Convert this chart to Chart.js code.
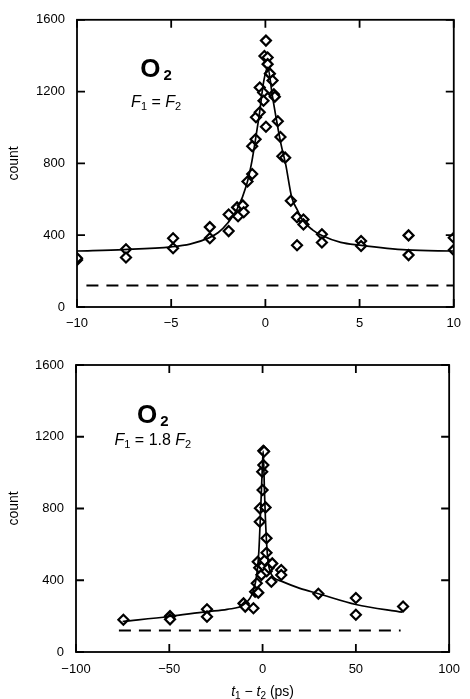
<!DOCTYPE html>
<html>
<head>
<meta charset="utf-8">
<script src="https://cdn.jsdelivr.net/npm/chart.js@4.4.1/dist/chart.umd.min.js"></script>
<style>
  body { margin: 0; background: #fff; }
  .box { position: relative; width: 470px; }
  canvas { display: block; }
</style>
</head>
<body>
<div class="box" style="height:340px"><canvas id="topChart" width="470" height="340"></canvas></div>
<div class="box" style="height:359px"><canvas id="botChart" width="470" height="359"></canvas></div>
<script>
// ---- top panel: F1 = F2, delay -10..10 ps
var topX = [-10, -10, -7.4, -7.4, -4.9, -4.9, -2.95, -2.95, -1.95, -1.95, -1.5, -1.45, -1.2, -1.15, -0.95, -0.7, -0.7, -0.52, -0.5, -0.3, -0.3, -0.12, -0.1, -0.05, 0.03, 0.12, 0.12, 0.03, 0.24, 0.38, 0.45, 0.5, 0.66, 0.8, 0.9, 1.05, 1.35, 1.68, 2.02, 2.02, 1.68, 3.0, 3.0, 5.08, 5.08, 7.6, 7.6, 10, 10];
var topY = [262, 272, 322, 276, 383, 327, 445, 383, 515, 423, 555, 506, 566, 528, 699, 741, 896, 934, 1057, 1085, 1223, 1195, 1149, 1398, 1484, 1390, 1353, 1004, 1300, 1262, 1185, 1172, 1035, 947, 840, 832, 592, 500, 487, 460, 344, 405, 359, 368, 340, 399, 289, 386, 318];
var topFitX = [-10, -7.5, -5, -4, -3, -2.5, -2, -1.5, -1, -0.75, -0.5, -0.3, -0.1, 0.12, 0.38, 0.56, 0.82, 1.08, 1.4, 1.7, 2, 2.5, 3, 4, 5, 7.5, 10];
var topFitY = [312, 320, 335, 350, 385, 415, 468, 545, 680, 793, 950, 1090, 1250, 1335, 1170, 1059, 912, 793, 610, 540, 480, 430, 398, 360, 345, 318, 312];
var topBgX = [-9.5, 10];
var topBgY = [120, 120];
var topXTicks = [-10, -5, 0, 5, 10];

// ---- bottom panel: F1 = 1.8 F2, delay -100..100 ps
var botX = [-74.6, -49.6, -49.6, -29.8, -29.8, -10.2, -9.3, -4.9, -4.0, -2.3, -3.1, -2.6, -1.8, -0.6, 0.2, 1.1, 2.2, 3.3, 4.7, 5.2, -1.4, 1.6, -1.5, 2.1, 2.1, 0.0, -0.2, 0.4, 0.4, 0.8, 10.0, 10.0, 29.9, 50, 50, 75.3];
var botY = [180, 200, 182, 238, 197, 271, 253, 244, 336, 331, 383, 503, 470, 430, 480, 510, 450, 470, 392, 494, 801, 806, 726, 634, 553, 903, 1005, 1042, 1122, 1118, 457, 429, 325, 301, 208, 254];
var botFitX = [-75, -50, -30, -19, -10, -5, -3, -2, -1, 0, 0.35, 1, 1.5, 2.2, 3, 4, 6, 10, 20, 30, 50, 75];
var botFitY = [170, 198, 225, 238, 265, 340, 440, 560, 800, 1060, 1120, 900, 750, 600, 500, 450, 415, 395, 355, 325, 265, 222];
var botBgX = [-77, 74];
var botBgY = [120, 120];
var botXTicks = [-100, -50, 0, 50, 100];

var yTicks = [0, 400, 800, 1200, 1600];

function pts(xs, ys) {
  var out = [];
  for (var i = 0; i < xs.length; i++) out.push({x: xs[i], y: ys[i]});
  return out;
}

function minus(v) {
  return v < 0 ? '\u2212' + Math.abs(v) : '' + v;
}

// frame round the plot with inward ticks on all four sides
var framePlugin = {
  id: 'frame',
  afterDraw: function(chart) {
    var a = chart.chartArea, ctx = chart.ctx;
    var xs = chart.scales.x, ys = chart.scales.y;
    var len = 8;
    ctx.save();
    ctx.strokeStyle = '#000';
    ctx.lineWidth = 1.8;
    ctx.strokeRect(a.left, a.top, a.right - a.left, a.bottom - a.top);
    ctx.beginPath();
    chart.options.plugins.frame.xTicks.forEach(function(v) {
      var px = xs.getPixelForValue(v);
      ctx.moveTo(px, a.bottom); ctx.lineTo(px, a.bottom - len);
      ctx.moveTo(px, a.top); ctx.lineTo(px, a.top + len);
    });
    yTicks.forEach(function(v) {
      var py = ys.getPixelForValue(v);
      ctx.moveTo(a.left, py); ctx.lineTo(a.left + len, py);
      ctx.moveTo(a.right, py); ctx.lineTo(a.right - len, py);
    });
    ctx.stroke();
    ctx.restore();
  }
};

// labels with sub-scripts, drawn as runs of text
var notesPlugin = {
  id: 'notes',
  afterDraw: function(chart) {
    var ctx = chart.ctx;
    var xs = chart.scales.x, ys = chart.scales.y;
    ctx.save();
    ctx.fillStyle = '#000';
    ctx.textBaseline = 'alphabetic';
    chart.options.plugins.notes.items.forEach(function(item) {
      var w = 0;
      item.runs.forEach(function(r) { ctx.font = r[1]; w += ctx.measureText(r[0]).width; });
      var cx = item.px != null ? item.px : xs.getPixelForValue(item.x);
      var cy = item.py != null ? item.py : ys.getPixelForValue(item.y);
      var x = cx - w / 2;
      item.runs.forEach(function(r) {
        ctx.font = r[1];
        ctx.fillText(r[0], x, cy + (r[2] || 0));
        x += ctx.measureText(r[0]).width;
      });
    });
    ctx.restore();
  }
};

var FAM = '"Liberation Sans", Arial, sans-serif';

function makeChart(id, o) {
  return new Chart(document.getElementById(id), {
    type: 'scatter',
    data: {
      datasets: [
        {
          type: 'line',
          data: pts(o.fitX, o.fitY),
          borderColor: '#000',
          borderWidth: 1.7,
          pointRadius: 0,
          cubicInterpolationMode: 'monotone',
          fill: false
        },
        {
          type: 'line',
          data: pts(o.bgX, o.bgY),
          borderColor: '#000',
          borderWidth: 2,
          borderDash: [12, 8],
          pointRadius: 0,
          fill: false
        },
        {
          data: pts(o.px, o.py),
          pointStyle: 'rectRot',
          pointRadius: 5,
          pointBorderWidth: 2.2,
          pointBackgroundColor: '#fff',
          pointBorderColor: '#000'
        }
      ]
    },
    options: {
      responsive: false,
      animation: false,
      layout: { padding: o.pad },
      plugins: {
        legend: { display: false },
        tooltip: { enabled: false },
        frame: { xTicks: o.xTicks },
        notes: { items: o.notes }
      },
      scales: {
        x: {
          type: 'linear',
          min: o.xMin, max: o.xMax,
          grid: { display: false, drawTicks: false },
          border: { display: false },
          afterBuildTicks: function(s) { s.ticks = o.xTicks.map(function(v) { return {value: v}; }); },
          afterFit: function(s) { s.height = o.xH; },
          ticks: {
            padding: o.xPad,
            color: '#000',
            font: { family: FAM, size: 13 },
            callback: function(v) { return minus(v); }
          }
        },
        y: {
          min: 0, max: 1600,
          grid: { display: false, drawTicks: false },
          border: { display: false },
          afterBuildTicks: function(s) { s.ticks = yTicks.map(function(v) { return {value: v}; }); },
          afterFit: function(s) { s.width = o.yW; },
          ticks: {
            padding: 12,
            color: '#000',
            font: { family: FAM, size: 13 },
            callback: function(v) { return '' + v; }
          },
          title: {
            display: true,
            text: 'count',
            color: '#000',
            font: { family: FAM, size: 14 },
            padding: { top: 6, bottom: 0 }
          }
        }
      }
    },
    plugins: [framePlugin, notesPlugin]
  });
}

var big = 'bold 26px ' + FAM, sub2 = 'bold 15px ' + FAM;
var it = 'italic 16px ' + FAM, rm = '16px ' + FAM, sm = '11px ' + FAM;

makeChart('topChart', {
  px: topX, py: topY, fitX: topFitX, fitY: topFitY, bgX: topBgX, bgY: topBgY,
  xMin: -10, xMax: 10, xTicks: topXTicks,
  pad: { top: 17, right: 11, left: 0, bottom: 0 },
  xH: 33, yW: 77, xPad: 9,
  notes: [
    { x: -5.8, y: 1280, runs: [['O', big], ['\u2009', sub2], ['2', sub2, 3]] },
    { x: -5.8, y: 1114, runs: [['F', it], ['1', sm, 3], [' = ', rm], ['F', it], ['2', sm, 3]] }
  ]
});

makeChart('botChart', {
  px: botX, py: botY, fitX: botFitX, fitY: botFitY, bgX: botBgX, bgY: botBgY,
  xMin: -100, xMax: 100, xTicks: botXTicks,
  pad: { top: 25, right: 13, left: 0, bottom: 0 },
  xH: 47, yW: 76, xPad: 10,
  notes: [
    { x: -58.8, y: 1277, runs: [['O', big], ['\u2009', sub2], ['2', sub2, 3]] },
    { x: -58.8, y: 1154, runs: [['F', it], ['1', sm, 3], [' = 1.8 ', rm], ['F', it], ['2', sm, 3]] },
    { x: 0, py: 356, runs: [['t', 'italic 14px ' + FAM], ['1', '10px ' + FAM, 3], [' \u2212 ', '14px ' + FAM], ['t', 'italic 14px ' + FAM], ['2', '10px ' + FAM, 3], [' (ps)', '14px ' + FAM]] }
  ]
});
</script>
</body>
</html>
